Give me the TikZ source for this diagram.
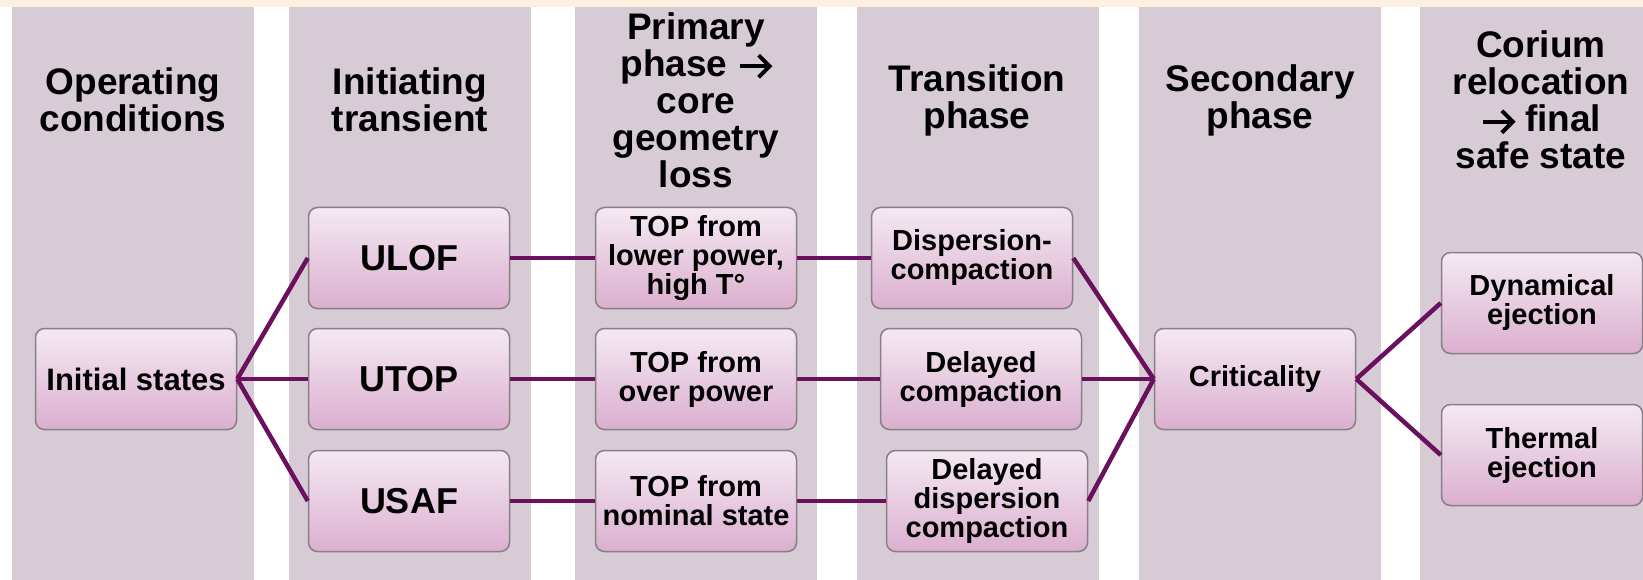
\documentclass[tikz,border=0pt]{standalone}
\usepackage{fontspec}
\setmainfont{Liberation Sans}
\definecolor{creamc}{HTML}{FDF0E0}
\definecolor{colc}{HTML}{D7CCD5}
\definecolor{boxtop}{HTML}{F4E9F2}
\definecolor{boxbot}{HTML}{DBAFCF}
\definecolor{boxborder}{HTML}{8A7E88}
\definecolor{linkc}{HTML}{6A105E}
\newcommand\hdrfont{\fontsize{37}{37}\selectfont\bfseries}
\newcommand\boxfont{\fontsize{29}{29}\selectfont\bfseries}
\newcommand\bigboxfont{\fontsize{36}{36}\selectfont\bfseries}
\newcommand\rarr{\tikz[baseline=0pt,x=1pt,y=1pt]{%
  \draw[black,line width=4pt] (0,10)--(29,10);
  \draw[black,line width=4pt,line join=miter] (19,21)--(30,10)--(19,-1);}}
\begin{document}
\begin{tikzpicture}[x=1pt,y=-1pt,
  colbg/.style={fill=colc,draw=none},
  box/.style={draw=boxborder,line width=1.5pt,rounded corners=9pt,
    top color=boxtop,bottom color=boxbot,minimum width=201pt,
    minimum height=101pt,align=center,font=\boxfont,inner sep=0pt},
  bigbox/.style={box,font=\bigboxfont},
  hdr/.style={align=center,font=\hdrfont,inner sep=0pt},
  link/.style={draw=linkc,line width=4.5pt}]
\useasboundingbox (0,0) rectangle (1643,580);
\fill[white] (0,0) rectangle (1643,580);
\fill[creamc] (0,0) rectangle (1643,7);
\foreach \cx in {12,289,575,857,1139,1420}
  \fill[colc] (\cx,7) rectangle ({min(\cx+242,1643)},580);
% headers
\node[hdr] (h1) at (133,100) {Operating\\conditions};
\node[hdr] (h2) at (410,100) {Initiating\\transient};
\node[hdr] (h3) at (696,100) {Primary\\phase \rarr\\core\\geometry\\loss};
\node[hdr] (h4) at (977,100) {Transition\\phase};
\node[hdr] (h5) at (1260,100) {Secondary\\phase};
\node[hdr] (h6) at (1541,100) {Corium\\relocation\\\rarr{} final\\safe state};
% boxes
\node[box,font=\fontsize{31}{31}\selectfont\bfseries] (init) at (136,379) {Initial states};
\node[bigbox] (ulof) at (409,258) {ULOF};
\node[bigbox] (utop) at (409,379) {UTOP};
\node[bigbox] (usaf) at (409,501) {USAF};
\node[box] (topl) at (696,258) {TOP from\\lower power,\\high T°};
\node[box] (topo) at (696,379) {TOP from\\over power};
\node[box] (topn) at (696,501) {TOP from\\nominal state};
\node[box] (disp) at (972,258) {Dispersion-\\compaction};
\node[box] (delc) at (981,379) {Delayed\\compaction};
\node[box] (deld) at (987,501) {Delayed\\dispersion\\compaction};
\node[box] (crit) at (1255,379) {Criticality};
\node[box] (dyn) at (1542,303) {Dynamical\\ejection};
\node[box] (therm) at (1542,455) {Thermal\\ejection};
% links
\draw[link] (init.east) -- (ulof.west);
\draw[link] (init.east) -- (utop.west);
\draw[link] (init.east) -- (usaf.west);
\draw[link] (ulof.east) -- (topl.west);
\draw[link] (utop.east) -- (topo.west);
\draw[link] (usaf.east) -- (topn.west);
\draw[link] (topl.east) -- (disp.west);
\draw[link] (topo.east) -- (delc.west);
\draw[link] (topn.east) -- (deld.west);
\draw[link] (disp.east) -- (crit.west);
\draw[link] (delc.east) -- (crit.west);
\draw[link] (deld.east) -- (crit.west);
\draw[link] (crit.east) -- (dyn.west);
\draw[link] (crit.east) -- (therm.west);
\end{tikzpicture}
\end{document}
